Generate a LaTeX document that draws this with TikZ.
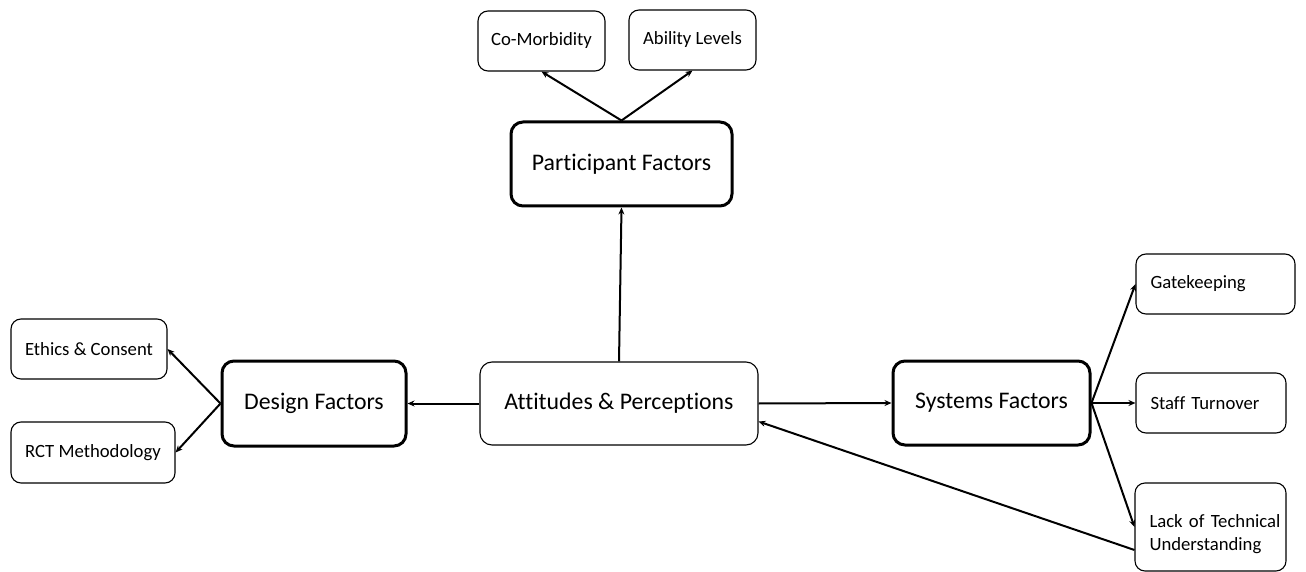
\documentclass[tikz,border=0pt]{standalone}
\usepackage{fontspec}
\setmainfont{Carlito}[Ligatures=NoCommon]
\usetikzlibrary{arrows.meta,calc}
\tikzset{
  thinbox/.style={draw=black, line width=1.1pt, rounded corners=10pt, fill=white, align=center, font=\fontsize{18.7}{23}\selectfont, inner sep=0pt},
  thickbox/.style={draw=black, line width=3pt, rounded corners=12pt, fill=white, align=center, font=\fontsize{23.8}{28}\selectfont, inner sep=0pt},
  midbox/.style={draw=black, line width=1.1pt, rounded corners=12pt, fill=white, align=center, font=\fontsize{23.8}{28}\selectfont, inner sep=0pt},
  leftbox/.style={thinbox, align=left, inner xsep=14.5pt},
  conn/.style={line width=2pt, -{Stealth[length=7pt,width=6pt]}}
}
\begin{document}
\begin{tikzpicture}[x=1pt,y=-1pt]
\useasboundingbox (0,0) rectangle (1306,572);
\node[thinbox, minimum width=127pt, minimum height=60pt] (com) at (541.5,41) {Co-Morbidity};
\node[thinbox, minimum width=127pt, minimum height=60pt] (abl) at (692.5,40) {Ability Levels};
\node[thickbox, minimum width=221pt, minimum height=84pt] (par) at (621.5,164) {Participant Factors};
\node[midbox, minimum width=278pt, minimum height=83pt] (att) at (619,403.5) {Attitudes \& Perceptions};
\node[thickbox, minimum width=184pt, minimum height=85pt] (des) at (314,403.5) {Design Factors};
\node[thinbox, minimum width=156pt, minimum height=60pt] (eth) at (89,349) {Ethics \& Consent};
\node[thinbox, minimum width=164pt, minimum height=61pt] (rct) at (93,452.5) {RCT Methodology};
\node[thickbox, minimum width=197pt, minimum height=84pt] (sys) at (991.5,403) {Systems Factors};
\node[leftbox, text width=130pt, minimum height=60pt] (gat) at (1215.5,284) {Gatekeeping};
\node[leftbox, text width=121pt, minimum height=60pt] (stf) at (1211,403) {Staff Turnover};
\node[leftbox, text width=122pt, minimum height=88pt, text height=27pt] (lack) at (1210.5,527) {\mbox{Lack of Technical}\\\mbox{Understanding}};

\draw[conn] (par.north) -- (com.south);
\draw[conn] (par.north) -- (abl.south);
\draw[conn] (att.north) -- (par.south);
\draw[conn] (att.west) -- (des.east);
\draw[conn] (des.west) -- (eth.east);
\draw[conn] (des.west) -- (rct.east);
\draw[conn] (att.east) -- (sys.west);
\draw[conn] (sys.east) -- (gat.west);
\draw[conn] (sys.east) -- (stf.west);
\draw[conn] (sys.east) -- (lack.west);
\draw[conn] ($(lack.west)+(0,23)$) -- ($(att.east)+(0,18)$);
\end{tikzpicture}
\end{document}
